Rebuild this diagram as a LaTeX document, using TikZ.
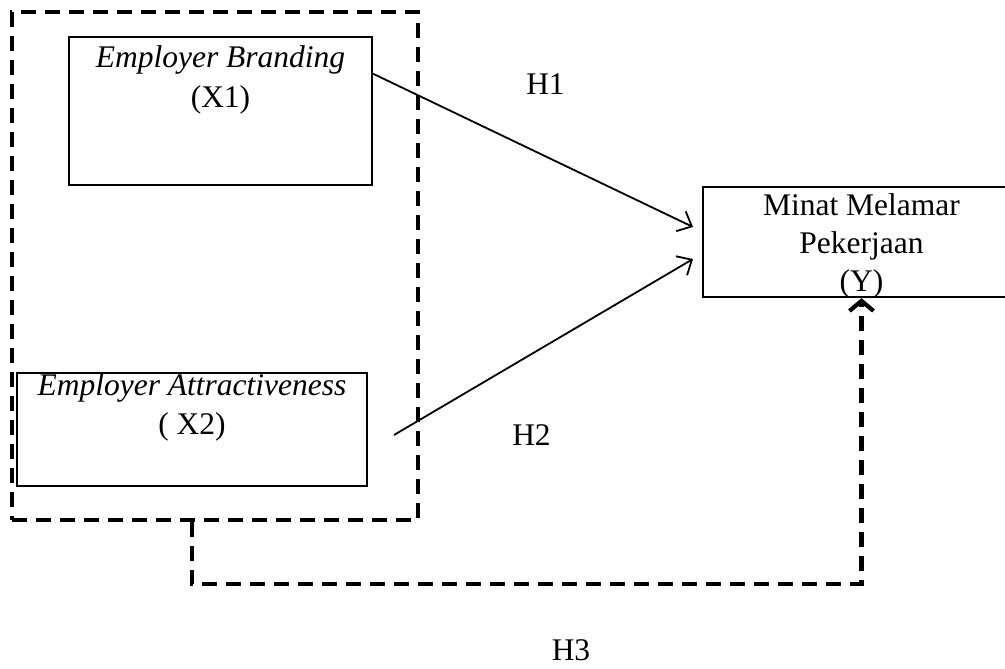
\documentclass[tikz,border=0pt]{standalone}
\usepackage{fontspec}
\setmainfont{Liberation Serif}
\usetikzlibrary{arrows.meta}
\begin{document}
\begin{tikzpicture}[x=1pt,y=-1pt,
  txt/.style={font=\fontsize{31.5pt}{37pt}\selectfont, inner sep=0pt, anchor=base},
  boxa/.style={draw, line width=2.4pt, inner sep=0pt},
  dsh/.style={line width=4.2pt, dash pattern=on 15pt off 9pt},
  arr/.style={line width=1.8pt, -{Straight Barb[length=12pt,width=22pt]}},
  darr/.style={dsh, -{Straight Barb[length=10pt,width=24pt,line width=4.2pt]}}]
\useasboundingbox (0,0) rectangle (1005,669);
% group box
\node[draw, dsh, inner sep=0pt, minimum width=406pt, minimum height=508pt] (G) at (215,266) {};
% boxes
\node[boxa, minimum width=303pt, minimum height=148pt] (X1) at (220.5,111) {};
\node[boxa, minimum width=350pt, minimum height=113pt] (X2) at (192,429.5) {};
\node[boxa, minimum width=317pt, minimum height=110pt] (Y) at (861.5,242) {};
% texts
\node[txt] (X1a) at (220.5,68) {\itshape Employer Branding};
\node[txt] (X1b) at (220.5,107) {(X1)};
\node[txt] (X2a) at (192,395) {\itshape Employer Attractiveness};
\node[txt] (X2b) at (192,434) {( X2)};
\node[txt] (Ya) at (861.5,215) {Minat Melamar};
\node[txt] (Yb) at (861.5,253) {Pekerjaan};
\node[txt] (Yc) at (861.5,291) {(Y)};
\node[txt] (H1) at (545.5,95) {H1};
\node[txt] (H2) at (531.5,445) {H2};
\node[txt] (H3) at (571,660) {H3};
% arrows
\coordinate (t1) at (693,227);
\coordinate (s2) at (394,435);
\coordinate (t2) at (693,259);
\draw[arr] ([yshift=-38pt]X1.north east) -- (t1);
\draw[arr] (s2) -- (t2);
\coordinate (c1) at (192,584);
\draw[darr] (G.south -| c1) -- (c1) -| (Y.south);
\end{tikzpicture}
\end{document}
